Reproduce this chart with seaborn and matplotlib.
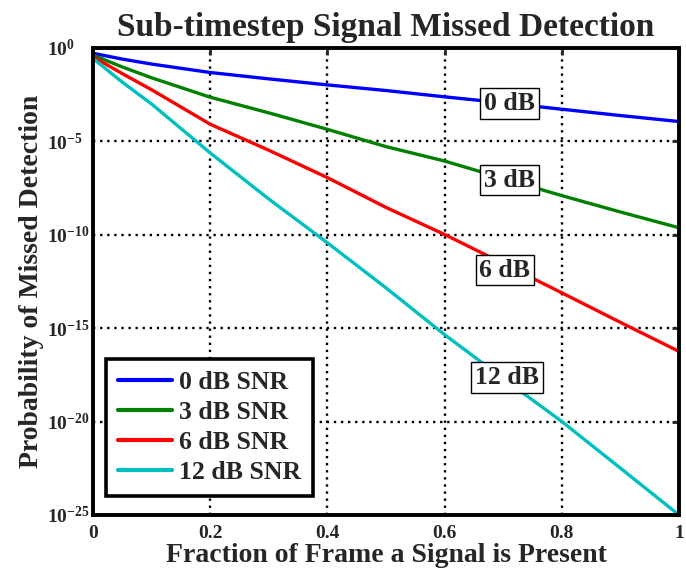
import matplotlib
matplotlib.use("Agg")
import matplotlib.pyplot as plt
import seaborn as sns
import pandas as pd

x = [0.0, 0.05, 0.1, 0.2, 0.3, 0.4, 0.5, 0.6, 0.7, 0.8, 0.9, 1.0]
p_0db = [4.9e-1, 2.4e-1, 1.3e-1, 4.6e-2, 2.1e-2, 1.0e-2, 5.0e-3, 2.3e-3, 1.1e-3, 5.0e-4, 2.3e-4, 1.1e-4]
p_3db = [3.9e-1, 9.1e-2, 2.4e-2, 2.2e-3, 3.2e-4, 4.2e-5, 5.0e-6, 8.5e-7, 1.0e-7, 1.2e-8, 1.6e-9, 2.3e-10]
p_6db = [3.2e-1, 4.0e-2, 5.5e-3, 7.9e-5, 3.2e-6, 1.1e-7, 2.8e-9, 1.0e-10, 2.8e-12, 7.6e-14, 2.0e-15, 5.6e-17]
p_12db = [2.6e-1, 1.4e-2, 9.5e-4, 2.3e-6, 7.9e-9, 3.6e-11, 1.4e-13, 4.4e-16, 2.0e-18, 1.0e-20, 3.2e-23, 1.0e-25]

series_names = ["0 dB SNR", "3 dB SNR", "6 dB SNR", "12 dB SNR"]
series_colors = ["#0000FF", "#008000", "#FF0000", "#00BFBF"]
label_texts = ["0 dB", "3 dB", "6 dB", "12 dB"]
label_x = [0.711, 0.711, 0.703, 0.706]
label_y = [1.05e-3, 8.1e-8, 1.26e-12, 2.2e-18]
xticks = [0, 0.2, 0.4, 0.6, 0.8, 1.0]
xtick_labels = ["0", "0.2", "0.4", "0.6", "0.8", "1"]
ytick_exps = [0, -5, -10, -15, -20, -25]

title = "Sub-timestep Signal Missed Detection"
xlabel = "Fraction of Frame a Signal is Present"
ylabel = "Probability of Missed Detection"

rows = []
for name, vals in zip(series_names, [p_0db, p_3db, p_6db, p_12db]):
    for xi, v in zip(x, vals):
        rows.append({"x": xi, "p": v, "series": name})
df = pd.DataFrame(rows)

sns.set_style("white")
plt.rcParams["font.family"] = ["Liberation Serif", "DejaVu Serif"]
plt.rcParams["font.weight"] = "bold"
plt.rcParams["mathtext.fontset"] = "custom"
plt.rcParams["mathtext.rm"] = "Liberation Serif:bold"
plt.rcParams["mathtext.it"] = "Liberation Serif:bold"
plt.rcParams["mathtext.bf"] = "Liberation Serif:bold"

fig = plt.figure(figsize=(6.86, 5.75), dpi=100)
W, H = 686.0, 575.0
left, right, top, bottom = 93.0, 679.0, 47.5, 515.0
ax = fig.add_axes([left / W, 1 - bottom / H, (right - left) / W, (bottom - top) / H])

sns.lineplot(data=df, x="x", y="p", hue="series", hue_order=series_names,
             palette=series_colors, linewidth=2.4, ax=ax, legend=True)

ax.set_yscale("log")
ax.set_xlim(0, 1)
ax.set_ylim(1e-25, 1e0)

ax.set_xticks(xticks)
ax.set_xticklabels(xtick_labels, fontsize=14, fontweight="bold")
yt = [10.0 ** e for e in ytick_exps]
ax.set_yticks(yt)
ax.set_yticklabels([r"$\mathregular{10^{%d}}$" % e for e in ytick_exps], fontsize=14)
ax.minorticks_off()
ax.tick_params(axis="both", direction="in", length=5, width=2, top=True, right=True)
ax.tick_params(axis="x", pad=7)
ax.tick_params(axis="y", pad=33)
for lab in ax.get_yticklabels():
    lab.set_horizontalalignment("left")

ax.grid(True, which="major", color="black", linestyle=(0, (1, 2.0)), linewidth=1.7)
for s in ax.spines.values():
    s.set_linewidth(2.8)
    s.set_color("black")

ax.set_title(title, fontsize=24, fontweight="bold", pad=8)
ax.set_xlabel(xlabel, fontsize=20, fontweight="bold", labelpad=1)
ax.set_ylabel(ylabel, fontsize=20, fontweight="bold", labelpad=2)

for t, lx, ly in zip(label_texts, label_x, label_y):
    ax.text(lx, ly, t, fontsize=18.5, fontweight="bold", ha="center", va="center",
            bbox=dict(boxstyle="square,pad=0.15", facecolor="white", edgecolor="black", linewidth=1.0),
            zorder=5)

leg = ax.legend(loc="lower left", bbox_to_anchor=(0.023, 0.041), prop={"size": 18.5, "weight": "bold"},
                handlelength=2.1, handletextpad=0.27, labelspacing=0.28, borderpad=0.45,
                borderaxespad=0.0, fancybox=False, framealpha=1.0, edgecolor="black")
leg.get_frame().set_linewidth(2.6)
for h in leg.get_lines():
    h.set_linewidth(3)

fig.savefig("out.png", dpi=100)
